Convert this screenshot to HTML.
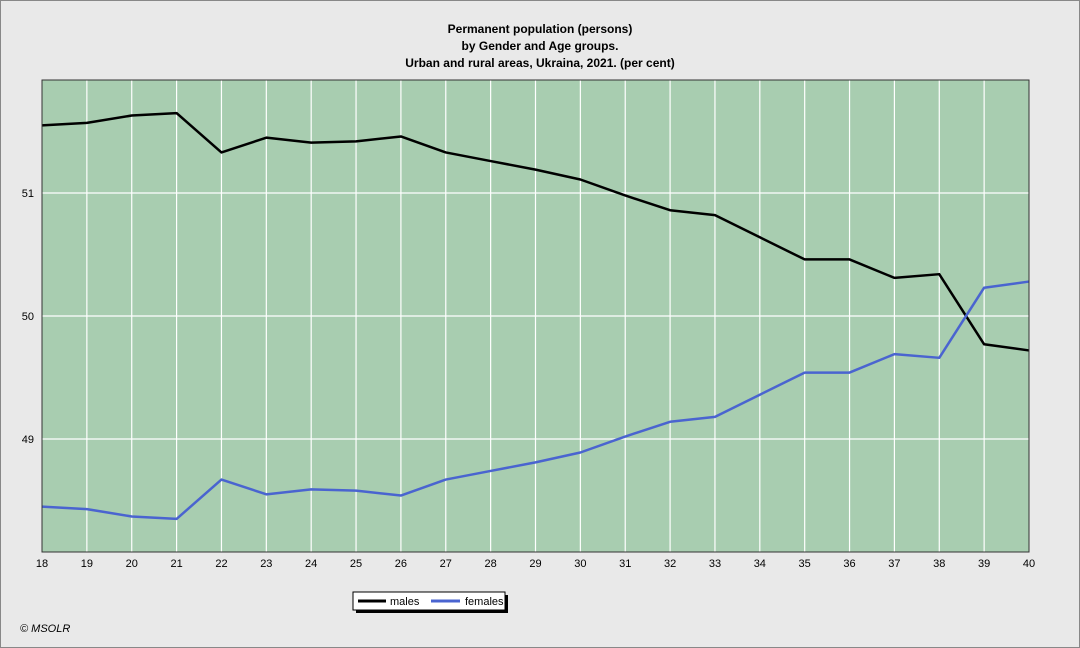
<!DOCTYPE html>
<html><head><meta charset="utf-8"><style>
body{margin:0;background:#e9e9e9;}
svg{display:block;font-family:"Liberation Sans",sans-serif;}
</style></head><body>
<svg id="chart" width="1080" height="648" xmlns="http://www.w3.org/2000/svg">
<rect x="0.5" y="0.5" width="1079" height="647" fill="#e9e9e9" stroke="#888"/>
<g font-size="12" font-weight="bold" text-anchor="middle" fill="#000">
<text x="540" y="33">Permanent population (persons)</text>
<text x="540" y="50">by Gender and Age groups.</text>
<text x="540" y="67">Urban and rural areas, Ukraina, 2021. (per cent)</text>
</g>
<rect x="42" y="80" width="987" height="472" fill="#a8cdb0"/>
<g id="grid"></g>
<g id="series"></g>
<rect x="42" y="80" width="987" height="472" fill="none" stroke="#333"/>
<g id="ticks" font-size="11" fill="#000"></g>
<g>
<rect x="356" y="595" width="152" height="18" fill="#000"/>
<rect x="353" y="592" width="152" height="18" fill="#fff" stroke="#000"/>
<line x1="358" y1="601" x2="386" y2="601" stroke="#000" stroke-width="3"/>
<text x="390" y="605" font-size="11">males</text>
<line x1="431" y1="601" x2="460" y2="601" stroke="#4a64d0" stroke-width="3"/>
<text x="465" y="605" font-size="11">females</text>
</g>
<text x="20" y="632" font-size="11" font-style="italic">© MSOLR</text>
</svg>
<script>
const ages=[18,19,20,21,22,23,24,25,26,27,28,29,30,31,32,33,34,35,36,37,38,39,40];
const males=[51.55,51.57,51.63,51.65,51.33,51.45,51.41,51.42,51.46,51.33,51.26,51.19,51.11,50.98,50.86,50.82,50.64,50.46,50.46,50.31,50.34,49.77,49.72];
const females=[48.45,48.43,48.37,48.35,48.67,48.55,48.59,48.58,48.54,48.67,48.74,48.81,48.89,49.02,49.14,49.18,49.36,49.54,49.54,49.69,49.66,50.23,50.28];
const yTicks=[49,50,51];
const NS="http://www.w3.org/2000/svg";
const X0=42,X1=1029,Y0=80,Y1=552,YMIN=48.081,YMAX=51.919;
const xs=i=>X0+(X1-X0)*i/(ages.length-1);
const ys=v=>Y1-(v-YMIN)/(YMAX-YMIN)*(Y1-Y0);
const grid=document.getElementById('grid'),ticks=document.getElementById('ticks'),ser=document.getElementById('series');
function mk(t,a,p){const e=document.createElementNS(NS,t);for(const k in a)e.setAttribute(k,a[k]);p.appendChild(e);return e;}
ages.forEach((a,i)=>{
 const x=xs(i);
 if(i>0&&i<ages.length-1){const l=mk('line',{x1:x,y1:Y0,x2:x,y2:Y1,stroke:'#fff','stroke-width':1.2},grid);
 
 }
 const t=mk('text',{x:x,y:567,'text-anchor':'middle'},ticks);t.textContent=a;
 
 
});
yTicks.forEach(v=>{
 const y=ys(v);
 const l=mk('line',{x1:X0,y1:y,x2:X1,y2:y,stroke:'#fff','stroke-width':1.2},grid);
 
 
 const t=mk('text',{x:34,y:y+4,'text-anchor':'end'},ticks);t.textContent=v;
 
 
});
function line(vals,color,name){
 const p=mk('polyline',{points:vals.map((v,i)=>xs(i)+','+ys(v)).join(' '),fill:'none',stroke:color,'stroke-width':2.5,'stroke-linejoin':'round'},ser);
 
 
}
line(males,'#000','males-line');
line(females,'#4a64d0','females-line');
</script>
</body></html>
